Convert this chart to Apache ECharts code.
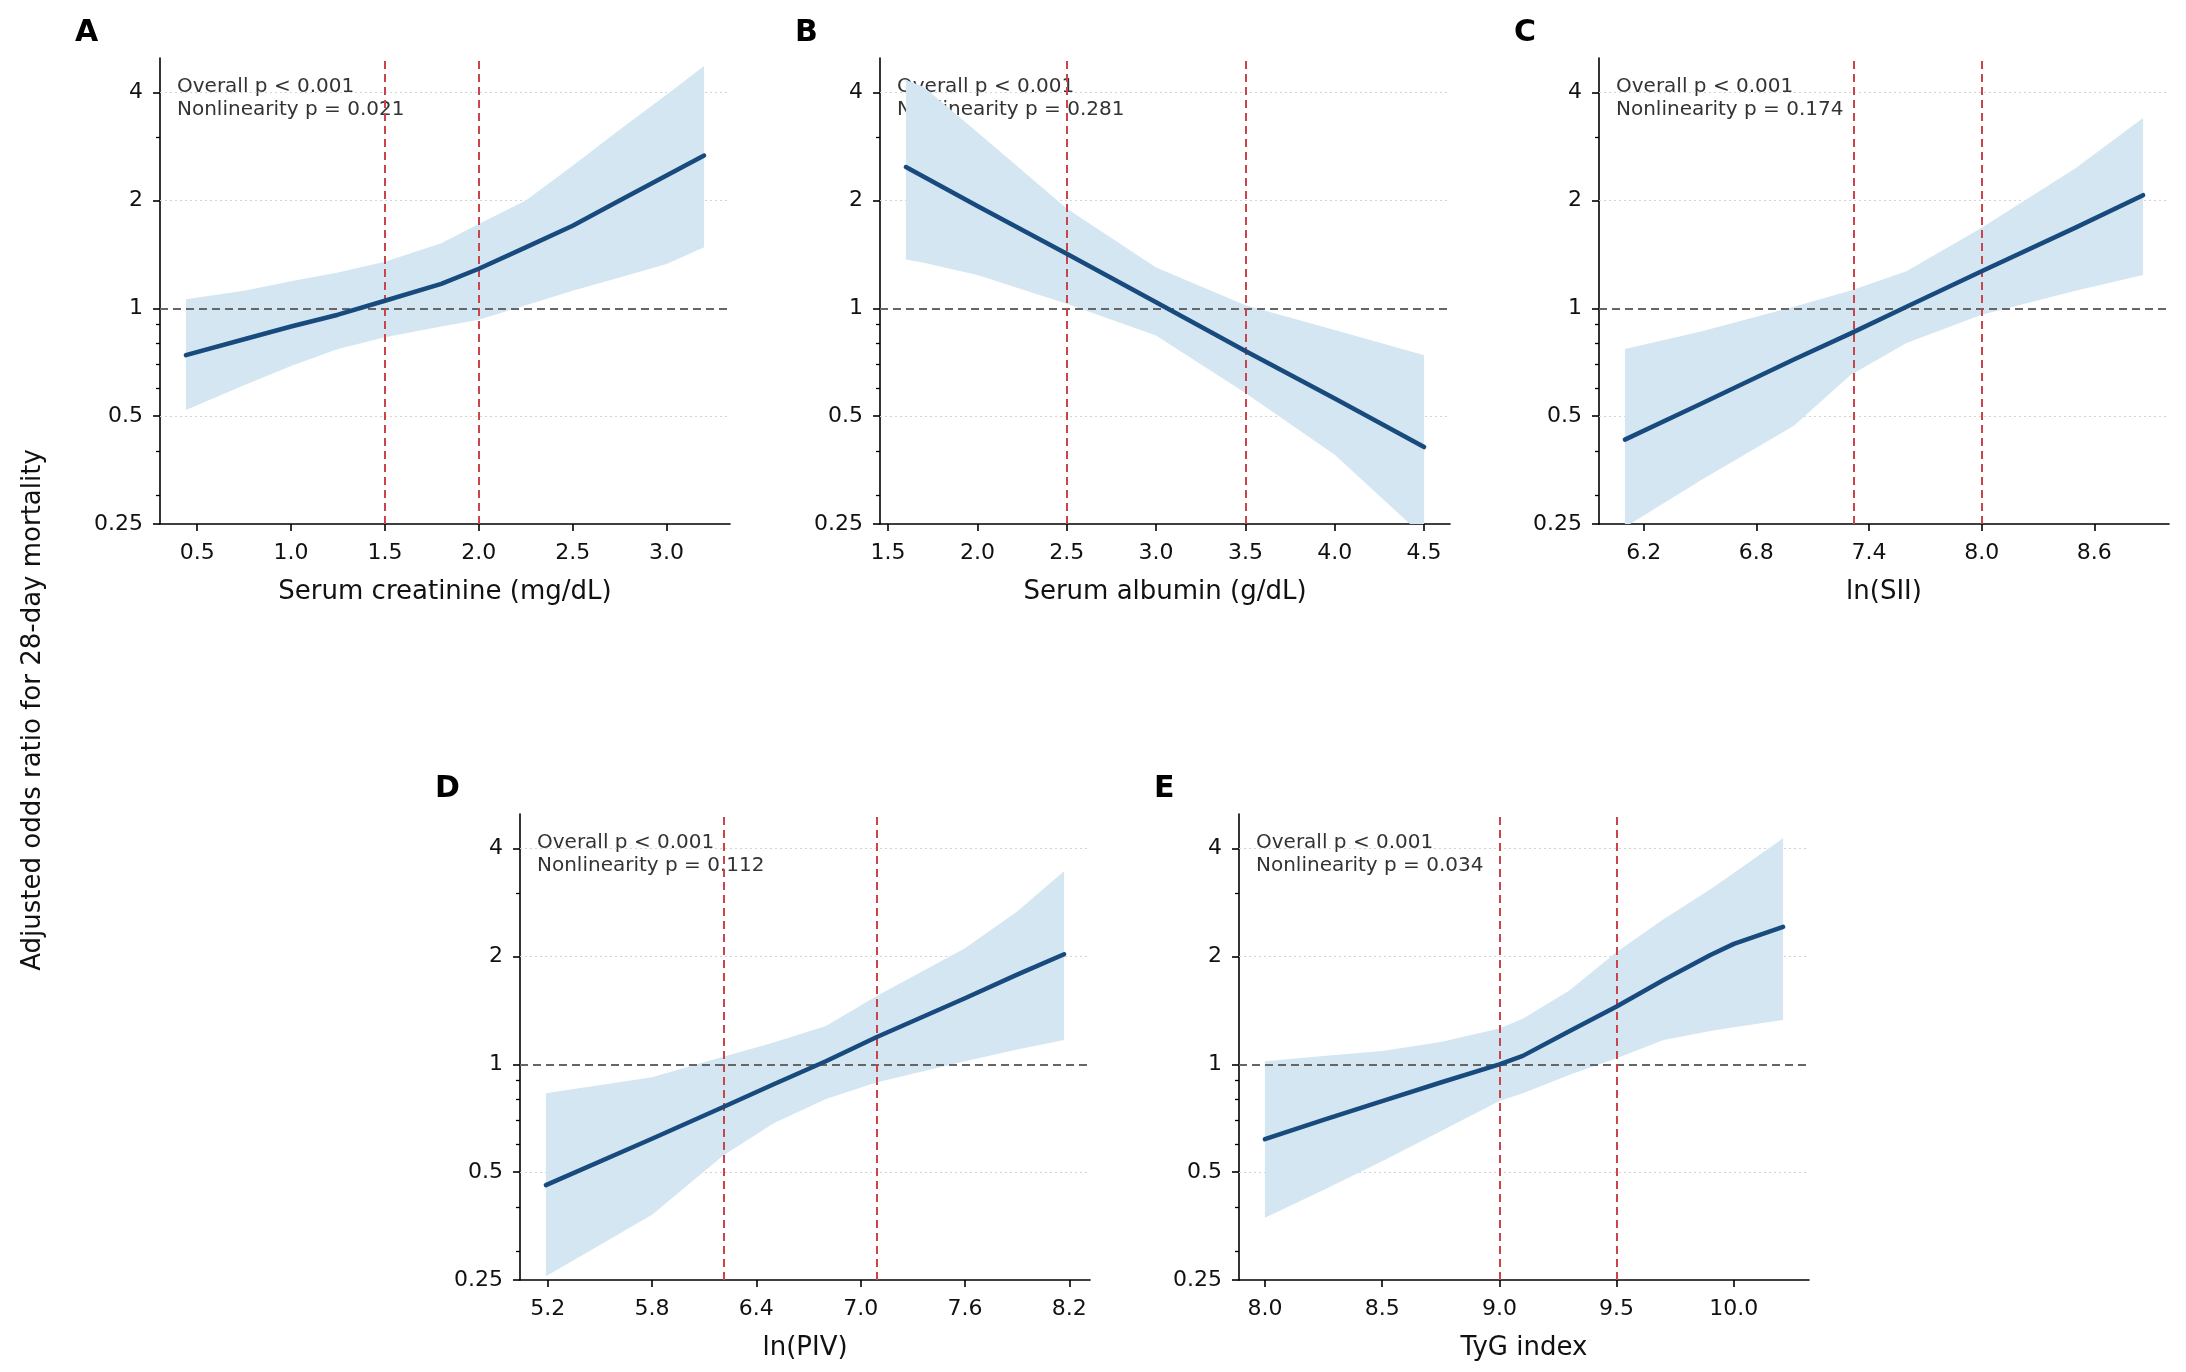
<!DOCTYPE html>
<html>
<head>
<meta charset="utf-8">
<script src="https://cdn.jsdelivr.net/npm/echarts@6/dist/echarts.min.js"></script>
<style>
  html, body { margin: 0; padding: 0; background: #fff; }
  #main { width: 2186px; height: 1372px; }
</style>
</head>
<body>
<div id="main"></div>
<script>
// odds ratios (OR scale, not log)
var xA = [0.44, 0.75, 1.0, 1.25, 1.5, 1.8, 2.0, 2.25, 2.5, 2.75, 3.0, 3.2];
var orA = [0.74, 0.82, 0.89, 0.96, 1.05, 1.17, 1.29, 1.48, 1.70, 2.0, 2.35, 2.67];
var loA = [0.52, 0.61, 0.69, 0.77, 0.83, 0.89, 0.93, 1.02, 1.12, 1.22, 1.33, 1.48];
var hiA = [1.06, 1.12, 1.19, 1.26, 1.35, 1.52, 1.72, 2.0, 2.5, 3.15, 3.95, 4.75];

var xB = [1.6, 1.7, 2.0, 2.5, 3.0, 3.5, 4.0, 4.5];
var orB = [2.48, 2.33, 1.93, 1.42, 1.04, 0.76, 0.56, 0.41];
var loB = [1.37, 1.34, 1.24, 1.03, 0.84, 0.58, 0.39, 0.23];
var hiB = [4.35, 4.15, 3.1, 1.9, 1.3, 1.02, 0.87, 0.74];

var xC = [6.1, 6.5, 7.0, 7.3, 7.6, 8.0, 8.5, 8.86];
var orC = [0.43, 0.54, 0.72, 0.85, 1.01, 1.27, 1.68, 2.07];
var loC = [0.245, 0.33, 0.47, 0.65, 0.80, 0.96, 1.12, 1.24];
var hiC = [0.77, 0.86, 1.01, 1.12, 1.27, 1.68, 2.46, 3.4];

var xD = [5.19, 5.8, 6.21, 6.5, 6.8, 7.09, 7.6, 7.9, 8.17];
var orD = [0.46, 0.62, 0.76, 0.88, 1.02, 1.19, 1.53, 1.78, 2.03];
var loD = [0.256, 0.38, 0.557, 0.685, 0.80, 0.89, 1.02, 1.10, 1.17];
var hiD = [0.83, 0.92, 1.05, 1.15, 1.28, 1.55, 2.11, 2.67, 3.46];

var xE = [8.0, 8.25, 8.5, 8.75, 9.0, 9.1, 9.3, 9.5, 9.7, 9.9, 10.0, 10.21];
var orE = [0.618, 0.70, 0.79, 0.89, 1.0, 1.056, 1.24, 1.45, 1.72, 2.02, 2.17, 2.42];
var loE = [0.373, 0.446, 0.536, 0.65, 0.79, 0.83, 0.935, 1.04, 1.17, 1.24, 1.27, 1.33];
var hiE = [1.02, 1.055, 1.09, 1.155, 1.26, 1.34, 1.61, 2.06, 2.54, 3.08, 3.42, 4.28];

// cut points (red dashed)
var refA = [1.5, 2.0];
var refB = [2.5, 3.5];
var refC = [7.32, 8.0];
var refD = [6.21, 7.09];
var refE = [9.0, 9.5];

// tick labels
var ticksA = [0.5, 1.0, 1.5, 2.0, 2.5, 3.0];
var ticksB = [1.5, 2.0, 2.5, 3.0, 3.5, 4.0, 4.5];
var ticksC = [6.2, 6.8, 7.4, 8.0, 8.6];
var ticksD = [5.2, 5.8, 6.4, 7.0, 7.6, 8.2];
var ticksE = [8.0, 8.5, 9.0, 9.5, 10.0];
var yTicks = [0.25, 0.5, 1, 2, 4];
var yTickLabels = ['0.25', '0.5', '1', '2', '4'];
var yMinorTicks = [0.3, 0.4, 0.6, 0.7, 0.8, 0.9, 3];
var yGridLines = [0.5, 2, 4];
var yRange = [0.25, 5];

var xNames = ['Serum creatinine (mg/dL)', 'Serum albumin (g/dL)', 'ln(SII)', 'ln(PIV)', 'TyG index'];
var letters = ['A', 'B', 'C', 'D', 'E'];
var pOverall = ['< 0.001', '< 0.001', '< 0.001', '< 0.001', '< 0.001'];
var pNonlin = ['0.021', '0.281', '0.174', '0.112', '0.034'];

var panels = [
  {x: xA, or: orA, lo: loA, hi: hiA, ref: refA, ticks: ticksA},
  {x: xB, or: orB, lo: loB, hi: hiB, ref: refB, ticks: ticksB},
  {x: xC, or: orC, lo: loC, hi: hiC, ref: refC, ticks: ticksC},
  {x: xD, or: orD, lo: loD, hi: hiD, ref: refD, ticks: ticksD},
  {x: xE, or: orE, lo: loE, hi: hiE, ref: refE, ticks: ticksE}
];

// layout
var pos = [[160, 58], [880, 58], [1599, 58], [520, 814], [1239, 814]];
var W = 570, H = 466;
var FONT = 'DejaVu Sans';
var BAND = 'rgb(211,230,241)';
var LINE = '#184a7e';
var RED = '#c8454b';

var log2 = function (v) { return Math.log(v) / Math.LN2; };

var grids = [], xAxes = [], yAxes = [], series = [], graphics = [];

function bandRenderer(rows) {
  return function (params, api) {
    if (params.dataIndex !== 0) return null;
    var top = rows.map(function (r) { return api.coord([r[0], r[2]]); });
    var bottom = rows.map(function (r) { return api.coord([r[0], r[1]]); }).reverse();
    var cs = params.coordSys;
    return {
      type: 'polygon',
      shape: {points: top.concat(bottom)},
      style: {fill: BAND},
      clipPath: {type: 'rect', shape: {x: cs.x, y: cs.y, width: cs.width, height: cs.height}}
    };
  };
}

panels.forEach(function (p, i) {
  var L = pos[i][0], T = pos[i][1];
  var x0 = p.x[0], x1 = p.x[p.x.length - 1], m = (x1 - x0) * 0.05;
  grids.push({left: L, top: T, width: W, height: H});

  xAxes.push({
    type: 'value', gridIndex: i, min: x0 - m, max: x1 + m,
    name: xNames[i], nameLocation: 'middle', nameGap: 55,
    nameTextStyle: {fontSize: 26, color: '#111', fontFamily: FONT},
    axisLine: {onZero: false, lineStyle: {color: '#000', width: 1.6}},
    axisTick: {length: 7, lineStyle: {color: '#000', width: 1.6}, customValues: p.ticks},
    axisLabel: {customValues: p.ticks, margin: 18, fontSize: 22, color: '#111', fontFamily: FONT,
      formatter: function (v) { return v.toFixed(1); }},
    splitLine: {show: false}
  });

  yAxes.push({
    type: 'value', gridIndex: i, position: 'left', min: log2(yRange[0]), max: log2(yRange[1]), interval: 1,
    axisLine: {onZero: false, lineStyle: {color: '#000', width: 1.6}},
    axisTick: {length: 7, lineStyle: {color: '#000', width: 1.6}, customValues: yTicks.map(log2)},
    axisLabel: {customValues: yTicks.map(log2), margin: 17, fontSize: 22, color: '#111', fontFamily: FONT,
      formatter: function (v) {
        var k = yTicks.map(log2).findIndex(function (t) { return Math.abs(t - v) < 1e-6; });
        return k >= 0 ? yTickLabels[k] : '';
      }},
    splitLine: {show: false}
  });

  // dotted grid lines (under the band)
  series.push({
    type: 'line', xAxisIndex: i, yAxisIndex: i, data: [], z: 1, silent: true,
    markLine: {
      z: 1, silent: true, symbol: 'none', label: {show: false},
      lineStyle: {color: '#d4d4d4', width: 1.2, type: [2, 3]},
      data: yGridLines.map(function (v) { return {yAxis: log2(v)}; })
    }
  });

  // confidence band
  var rows = p.x.map(function (x, k) { return [x, log2(p.lo[k]), log2(p.hi[k])]; });
  series.push({
    type: 'custom', xAxisIndex: i, yAxisIndex: i, z: 2, silent: true,
    renderItem: bandRenderer(rows),
    data: rows
  });

  // reference lines
  series.push({
    type: 'line', xAxisIndex: i, yAxisIndex: i, data: [], z: 3, silent: true,
    markLine: {
      z: 3, silent: true, symbol: 'none', label: {show: false},
      data: [{yAxis: 0, lineStyle: {color: '#666', width: 2, type: [8, 5]}}].concat(
        p.ref.map(function (r) { return {xAxis: r, lineStyle: {color: RED, width: 2, type: [8, 5]}}; }))
    }
  });

  // fitted curve
  series.push({
    type: 'line', xAxisIndex: i, yAxisIndex: i, z: 4, symbol: 'none', silent: true,
    lineStyle: {color: LINE, width: 4.5, cap: 'round', join: 'round'},
    data: p.x.map(function (x, k) { return [x, log2(p.or[k])]; })
  });

  graphics.push({
    type: 'text', left: L - 85, top: T - 40,
    style: {text: letters[i], fontSize: 30, fontWeight: 'bold', fill: '#000', fontFamily: FONT}
  });
  graphics.push({
    type: 'text', left: L + 17, top: T + 17,
    style: {text: 'Overall p ' + pOverall[i] + '\nNonlinearity p = ' + pNonlin[i],
      fontSize: 20, lineHeight: 23, fill: '#333', fontFamily: FONT}
  });
});

// minor ticks on separate overlay axes
panels.forEach(function (p, i) {
  yAxes.push({
    type: 'value', gridIndex: i, position: 'left', offset: 0,
    min: log2(yRange[0]), max: log2(yRange[1]), interval: 1,
    axisLine: {show: false, onZero: false},
    axisTick: {length: 4, lineStyle: {color: '#000', width: 1.3}, customValues: yMinorTicks.map(log2)},
    axisLabel: {show: false},
    splitLine: {show: false}
  });
});

graphics.push({
  type: 'text', x: 33, y: 710, rotation: Math.PI / 2,
  style: {text: 'Adjusted odds ratio for 28-day mortality', fontSize: 26, fill: '#111',
    fontFamily: FONT, align: 'center', verticalAlign: 'middle'}
});

var myChart = echarts.init(document.getElementById('main'), null, {renderer: 'canvas'});
var option = {
  backgroundColor: '#fff',
  animation: false,
  grid: grids,
  xAxis: xAxes,
  yAxis: yAxes,
  series: series,
  graphic: graphics
};
myChart.setOption(option);
</script>
</body>
</html>
